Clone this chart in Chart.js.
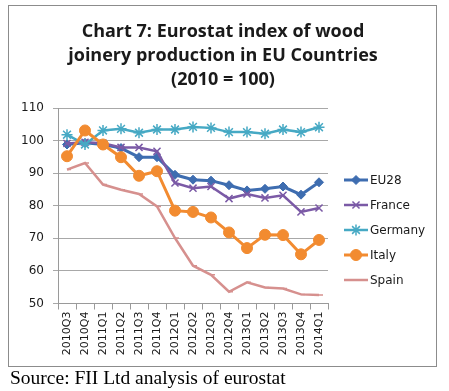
<!DOCTYPE html>
<html>
<head>
<meta charset="utf-8">
<script src="https://cdn.jsdelivr.net/npm/chart.js@4/dist/chart.umd.min.js"></script>
<style>
html,body{margin:0;padding:0;background:#fff;}
#wrap{position:relative;width:449px;height:391px;}
canvas{display:block;}
</style>
</head>
<body>
<div id="wrap"><canvas id="c" width="449" height="391"></canvas></div>
<script>
const titleLines = ["Chart 7: Eurostat index of wood", "joinery production in EU Countries", "(2010 = 100)"];
const sourceText = "Source: FII Ltd analysis of eurostat";
const categories = ["2010Q3","2010Q4","2011Q1","2011Q2","2011Q3","2011Q4","2012Q1","2012Q2","2012Q3","2012Q4","2013Q1","2013Q2","2013Q3","2013Q4","2014Q1"];
const seriesNames = ["EU28","France","Germany","Italy","Spain"];
const eu28    = [98.8, 99.3, 98.8, 97.7, 94.9, 94.9, 89.5, 88.0, 87.7, 86.3, 84.7, 85.2, 85.9, 83.4, 87.2];
const france  = [99.1, 99.5, 99.2, 97.9, 97.9, 96.7, 87.0, 85.4, 85.9, 82.2, 83.6, 82.4, 83.2, 78.1, 79.3];
const germany = [101.8, 98.8, 103.1, 103.6, 102.4, 103.4, 103.4, 104.2, 103.9, 102.6, 102.6, 102.1, 103.4, 102.6, 104.1];
const italy   = [95.2, 103.1, 98.8, 94.9, 89.2, 90.6, 78.5, 78.1, 76.4, 71.8, 67.0, 71.1, 71.0, 65.1, 69.5];
const spain   = [91.1, 93.1, 86.5, 84.9, 83.6, 79.8, 70.1, 61.6, 58.8, 53.6, 56.5, 54.9, 54.6, 52.8, 52.6];
const yTicks  = [50, 60, 70, 80, 90, 100, 110];

const styles = [
  {color:"#3E6DB0", pointStyle:"rectRot", radius:4.5, lineWidth:3, fill:true},
  {color:"#7B5AA6", pointStyle:"cross", radius:5, lineWidth:2.5, rotation:45, fill:false},
  {color:"#46A9C4", pointStyle:"star", radius:5.5, lineWidth:2.5, fill:false},
  {color:"#F28B30", pointStyle:"circle", radius:5.5, lineWidth:3, fill:true},
  {color:"#D6908E", pointStyle:"dash", radius:4, lineWidth:2.5, fill:false}
];
const values = [eu28, france, germany, italy, spain];

const datasets = values.map((v,i)=>({
  label: seriesNames[i],
  data: v,
  borderColor: styles[i].color,
  backgroundColor: styles[i].color,
  pointBackgroundColor: styles[i].color,
  pointBorderColor: styles[i].color,
  borderWidth: styles[i].lineWidth,
  pointStyle: styles[i].pointStyle,
  pointRadius: styles[i].radius,
  pointRotation: styles[i].rotation || 0,
  pointBorderWidth: styles[i].fill ? 1 : 1.5,
  tension: 0,
  order: 4 - i
}));

const deco = {
  id: "deco",
  beforeDraw(chart){
    const ctx = chart.ctx;
    ctx.save();
    ctx.fillStyle = "#fff";
    ctx.fillRect(0,0,chart.width,chart.height);
    ctx.strokeStyle = "#8c8c8c";
    ctx.lineWidth = 1;
    ctx.strokeRect(8.5,5.5,428,361);
    ctx.restore();
  },
  afterDraw(chart){
    const ctx = chart.ctx;
    ctx.save();
    ctx.fillStyle = "#1a1a1a";
    ctx.font = "bold 18px 'Open Sans', sans-serif";
    ctx.textAlign = "center";
    ctx.textBaseline = "alphabetic";
    const ys = [37, 61, 85];
    titleLines.forEach((t,i)=>ctx.fillText(t, 223, ys[i]));
    // legend
    ctx.font = "12px 'DejaVu Sans', sans-serif";
    ctx.textAlign = "left";
    ctx.textBaseline = "middle";
    chart.data.datasets.forEach((ds,i)=>{
      const y = 180 + i*25;
      ctx.strokeStyle = ds.borderColor;
      ctx.lineWidth = ds.borderWidth;
      ctx.beginPath(); ctx.moveTo(344,y); ctx.lineTo(368,y); ctx.stroke();
      if (ds.pointStyle !== "dash") {
        ctx.fillStyle = ds.pointBackgroundColor;
        ctx.strokeStyle = ds.pointBorderColor;
        ctx.lineWidth = ds.pointBorderWidth;
        Chart.helpers.drawPoint(ctx, {pointStyle: ds.pointStyle, radius: ds.pointRadius, rotation: ds.pointRotation, borderWidth: ds.pointBorderWidth}, 356, y);
      }
      ctx.fillStyle = "#1a1a1a";
      ctx.fillText(ds.label, 370, y+1);
    });
    // source
    ctx.font = "19.5px 'Liberation Serif', serif";
    ctx.textBaseline = "alphabetic";
    ctx.fillStyle = "#000";
    ctx.fillText(sourceText, 10, 384);
    ctx.restore();
  }
};

new Chart(document.getElementById("c"), {
  type: "line",
  data: { labels: categories, datasets },
  options: {
    responsive: false,
    animation: false,
    devicePixelRatio: 1,
    layout: { padding: { left: 8, right: 121, top: 108, bottom: 0 } },
    plugins: { legend: { display: false }, title: { display: false }, tooltip: { enabled: false } },
    scales: {
      x: {
        offset: true,
        grid: { offset: true, drawOnChartArea: false, drawTicks: true, tickLength: 6, color: "#9a9a9a" },
        border: { color: "#9a9a9a" },
        ticks: { minRotation: 90, maxRotation: 90, autoSkip: false, padding: 2, color: "#1a1a1a", font: { family: "'DejaVu Sans', sans-serif", size: 11 } },
        afterFit(s){ s.height = 87.5; }
      },
      y: {
        min: 50, max: 110,
        afterBuildTicks(s){ s.ticks = yTicks.map(v=>({value:v})); },
        grid: { color: "#a8a8a8", tickLength: 5, drawTicks: true },
        border: { color: "#9a9a9a" },
        ticks: { padding: 9, color: "#1a1a1a", font: { family: "'DejaVu Sans', sans-serif", size: 12 } },
        afterFit(s){ s.width = 50; }
      }
    }
  },
  plugins: [deco]
});
</script>
</body>
</html>
